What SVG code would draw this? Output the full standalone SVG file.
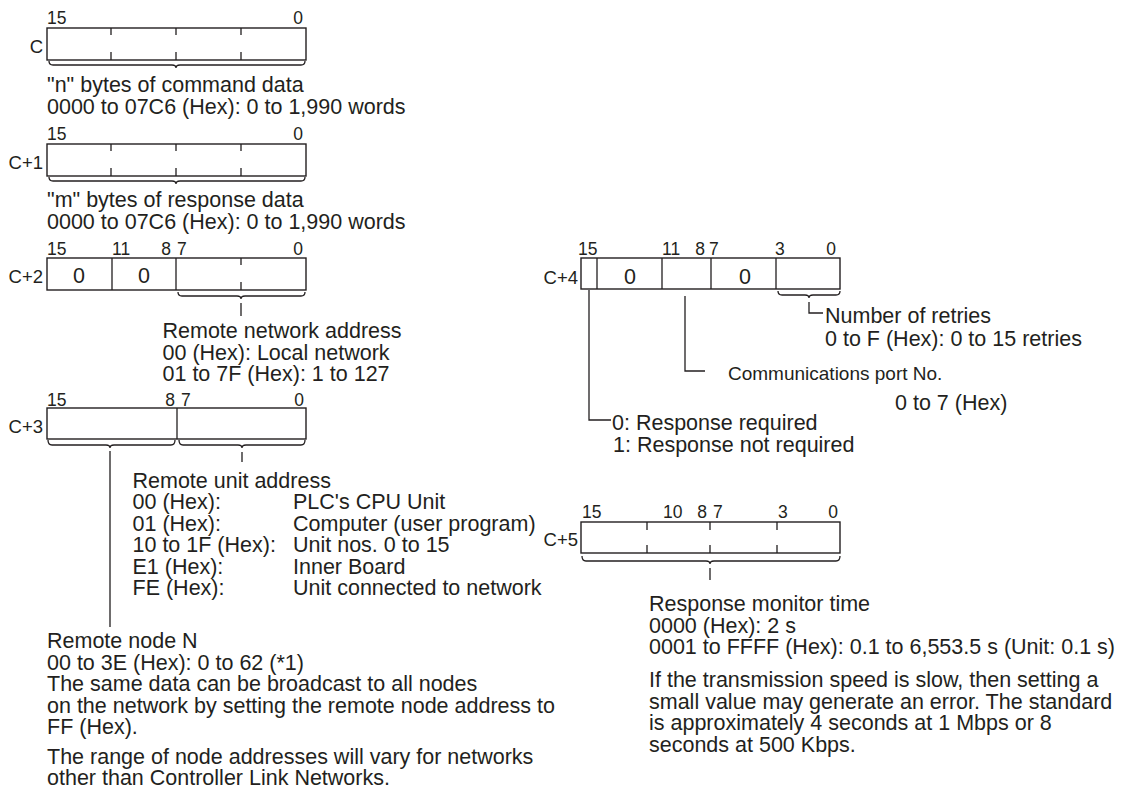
<svg xmlns="http://www.w3.org/2000/svg" width="1126" height="788" viewBox="0 0 1126 788">
<style>
text{font-family:"Liberation Sans",Arial,Helvetica,sans-serif;fill:#231f20}
.t{font-size:21.5px}
.s{font-size:19px}
.b{font-size:17.5px}
.r{font-size:18.5px;text-anchor:end}
.e{text-anchor:end}
.m{text-anchor:middle}
.box{fill:none;stroke:#231f20;stroke-width:1.4}
.ln{fill:none;stroke:#231f20;stroke-width:1.3}
</style>
<rect width="1126" height="788" fill="#fff"/>

<g id="reg-C">
<rect class="box" x="47" y="28" width="259" height="32"/>
<path class="ln" d="M111,28v7M111,52v8M176,28v7M176,52v8M241,28v7M241,52v8"/>
<text class="b" x="47" y="24">15</text><text class="b e" x="303" y="24">0</text>
<text class="r" x="43" y="53">C</text>
<path class="ln" d="M49,61Q49,65 53,65L172,65Q176,65 176,68Q176,65 180,65L301,65Q305,65 305,61"/>
<text class="t" x="47" y="92">"n" bytes of command data</text>
<text class="t" x="47" y="113.5">0000 to 07C6 (Hex): 0 to 1,990 words</text>
</g>

<g id="reg-C1">
<rect class="box" x="47" y="144" width="259" height="32"/>
<path class="ln" d="M111,144v7M111,168v8M176,144v7M176,168v8M241,144v7M241,168v8"/>
<text class="b" x="47" y="140">15</text><text class="b e" x="303" y="140">0</text>
<text class="r" x="43" y="169">C+1</text>
<path class="ln" d="M49,177Q49,181 53,181L172,181Q176,181 176,184Q176,181 180,181L301,181Q305,181 305,177"/>
<text class="t" x="47" y="207">"m" bytes of response data</text>
<text class="t" x="47" y="228.5">0000 to 07C6 (Hex): 0 to 1,990 words</text>
</g>

<g id="reg-C2">
<rect class="box" x="47" y="258" width="259" height="32"/>
<path class="ln" d="M112,258v32M176,258v32M241,258v7M241,282v8"/>
<text class="b" x="47" y="255">15</text><text class="b" x="112" y="255">11</text>
<text class="b e" x="171" y="255">8</text><text class="b" x="177" y="255">7</text>
<text class="b e" x="303" y="255">0</text>
<text class="r" x="43" y="283">C+2</text>
<text class="t m" x="79" y="283">0</text><text class="t m" x="144" y="283">0</text>
<path class="ln" d="M178,292Q178,296 182,296L237,296Q241,296 241,299Q241,296 245,296L301,296Q305,296 305,292M241,303v13"/>
<text class="t" x="162.5" y="338">Remote network address</text>
<text class="t" x="162.5" y="359.5">00 (Hex): Local network</text>
<text class="t" x="162.5" y="381">01 to 7F (Hex): 1 to 127</text>
</g>

<g id="reg-C3">
<rect class="box" x="47" y="408" width="259" height="31"/>
<path class="ln" d="M177,408v31"/>
<text class="b" x="47" y="406">15</text>
<text class="b e" x="175" y="406">8</text><text class="b" x="181" y="406">7</text>
<text class="b e" x="304" y="406">0</text>
<text class="r" x="43" y="433">C+3</text>
<path class="ln" d="M48,440Q48,445 52,445L106,445Q110,445 110,448Q110,445 114,445L171,445Q175,445 175,440"/>
<path class="ln" d="M179,440Q179,445 183,445L238,445Q242,445 242,448Q242,445 246,445L301,445Q305,445 305,440"/>
<path class="ln" d="M110,451V627M242,452v10"/>
<text class="t" x="132.5" y="488">Remote unit address</text>
<text class="t" x="132.5" y="509">00 (Hex):</text><text class="t" x="293" y="509">PLC's CPU Unit</text>
<text class="t" x="132.5" y="530.5">01 (Hex):</text><text class="t" x="293" y="530.5">Computer (user program)</text>
<text class="t" x="132.5" y="552">10 to 1F (Hex):</text><text class="t" x="293" y="552">Unit nos. 0 to 15</text>
<text class="t" x="132.5" y="573.5">E1 (Hex):</text><text class="t" x="293" y="573.5">Inner Board</text>
<text class="t" x="132.5" y="595">FE (Hex):</text><text class="t" x="293" y="595">Unit connected to network</text>
<text class="t" x="47" y="648">Remote node N</text>
<text class="t" x="47" y="669.5">00 to 3E (Hex): 0 to 62 (*1)</text>
<text class="t" x="47" y="691">The same data can be broadcast to all nodes</text>
<text class="t" x="47" y="712.5">on the network by setting the remote node address to</text>
<text class="t" x="47" y="734">FF (Hex).</text>
<text class="t" x="47" y="764">The range of node addresses will vary for networks</text>
<text class="t" x="47" y="784.5">other than Controller Link Networks.</text>
</g>

<g id="reg-C4">
<rect class="box" x="581" y="258" width="259" height="31"/>
<path class="ln" d="M597,258v31M662,258v31M711,258v31M776,258v31"/>
<text class="b" x="578" y="255">15</text><text class="b" x="662" y="255">11</text>
<text class="b e" x="705" y="255">8</text><text class="b" x="709" y="255">7</text>
<text class="b" x="775" y="255">3</text><text class="b e" x="836" y="255">0</text>
<text class="r" x="578" y="284">C+4</text>
<text class="t m" x="630" y="284">0</text><text class="t m" x="745" y="284">0</text>
<path class="ln" d="M778,291Q778,295 782,295L805,295Q809,295 809,298Q809,295 813,295L836,295Q840,295 840,291"/>
<path class="ln" d="M809,302V313H823"/>
<text class="t" x="825" y="323">Number of retries</text>
<text class="t" x="825" y="346">0 to F (Hex): 0 to 15 retries</text>
<path class="ln" d="M685,296V371H705"/>
<text class="s" x="728" y="380">Communications port No.</text>
<text class="t" x="895" y="410">0 to 7 (Hex)</text>
<path class="ln" d="M589,290V420H611"/>
<text class="t" x="612" y="430">0: Response required</text>
<text class="t" x="613" y="451.5">1: Response not required</text>
</g>

<g id="reg-C5">
<rect class="box" x="581" y="522" width="259" height="31"/>
<path class="ln" d="M647,522v8M647,545v8M710,522v8M710,545v8M777,522v8M777,545v8"/>
<text class="b" x="582" y="518">15</text><text class="b" x="663" y="518">10</text>
<text class="b e" x="707" y="518">8</text><text class="b" x="713" y="518">7</text>
<text class="b" x="778" y="518">3</text><text class="b e" x="838" y="518">0</text>
<text class="r" x="578" y="546">C+5</text>
<path class="ln" d="M582,556Q582,561 586,561L706,561Q710,561 710,564Q710,561 714,561L836,561Q840,561 840,556M710,568v12"/>
<text class="t" x="649" y="611">Response monitor time</text>
<text class="t" x="649" y="632.5">0000 (Hex): 2 s</text>
<text class="t" x="649" y="654">0001 to FFFF (Hex): 0.1 to 6,553.5 s (Unit: 0.1 s)</text>
<text class="t" x="649" y="687">If the transmission speed is slow, then setting a</text>
<text class="t" x="649" y="708.5">small value may generate an error. The standard</text>
<text class="t" x="649" y="730">is approximately 4 seconds at 1 Mbps or 8</text>
<text class="t" x="649" y="751.5">seconds at 500 Kbps.</text>
</g>
</svg>
